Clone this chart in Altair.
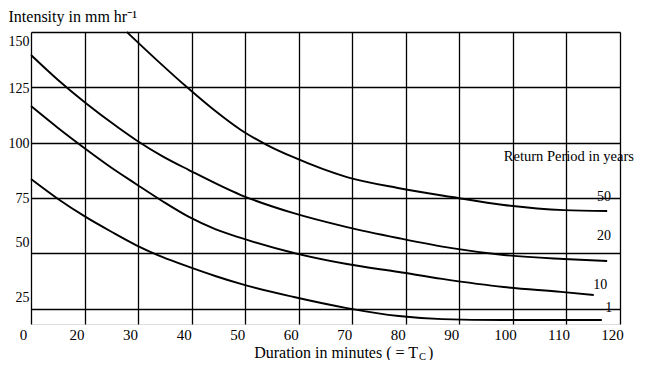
import altair as alt
import pandas as pd

# ---- axis ticks (as printed on the chart) ----
X_TICKS = [0, 20, 30, 40, 50, 60, 70, 80, 90, 100, 110, 120]
Y_TICKS = [25, 50, 75, 100, 125, 150]

# ---- curves: duration (min) and intensity (mm/hr) ----
RP50_T = [27.9, 33.5, 39.1, 44.2, 49.2, 54.1, 58.9, 69.0, 78.5, 88.6, 98.3, 109.5, 117.6]
RP50_I = [150.0, 137.3, 125.1, 114.7, 105.7, 98.9, 93.5, 84.4, 79.5, 75.4, 71.8, 69.5, 69.1]

RP20_T = [0, 10.1, 20.2, 26.4, 29.6, 34.5, 39.5, 49.2, 58.9, 69.0, 78.5, 88.6, 98.3, 109.5, 117.6]
RP20_I = [139.6, 128.3, 117.9, 106.6, 101.2, 93.9, 87.6, 76.3, 68.2, 61.8, 56.9, 52.3, 49.2, 47.4, 46.5]

RP10_T = [0, 10.1, 20.2, 25.1, 29.6, 34.5, 39.5, 44.4, 49.2, 59.1, 69.0, 78.7, 86.8, 98.3, 109.0, 115.1]
RP10_I = [116.5, 106.6, 97.1, 88.5, 81.3, 73.6, 66.4, 60.9, 56.9, 50.1, 45.1, 41.5, 38.4, 34.7, 32.5, 31.1]

RP1_T = [0, 10.1, 20.2, 25.1, 29.6, 34.5, 39.5, 44.4, 49.2, 59.1, 69.0, 78.7, 86.8, 98.0, 116.6]
RP1_I = [83.5, 74.5, 66.4, 59.6, 53.7, 48.3, 43.8, 39.7, 36.1, 30.2, 25.2, 21.6, 20.2, 19.8, 19.8]

# ---- labels on the right ----
LABEL_TEXT = ["Return Period in years", "50", "20", "10", "1"]
LABEL_T = [98.3, 117.0, 117.0, 116.3, 117.9]
LABEL_I = [93.5, 75.4, 57.8, 35.6, 25.2]
LABEL_ALIGN = ["left", "center", "center", "center", "center"]

rows = []
for name, ts, vs in [("50", RP50_T, RP50_I), ("20", RP20_T, RP20_I),
                     ("10", RP10_T, RP10_I), ("1", RP1_T, RP1_I)]:
    for t, v in zip(ts, vs):
        rows.append({"period": name, "t": t, "i": v})
curves = pd.DataFrame(rows)

labels = pd.DataFrame({"txt": LABEL_TEXT, "t": LABEL_T, "i": LABEL_I, "al": LABEL_ALIGN})

W, H = 589, 292
FONT = "Liberation Serif"

xscale = alt.Scale(domain=[0, 20, 120], range=[0, W / 11, W], nice=False, zero=False)
yscale = alt.Scale(domain=[18, 150], nice=False, zero=False)

xaxis = alt.Axis(values=X_TICKS, title=None, grid=True, gridColor="black", gridOpacity=1,
                 gridWidth=1.3, ticks=False, domain=False, labelFont=FONT, labelFontSize=15,
                 labelColor="black", labelPadding=3, labelOffset=-8, labelFlush=False)
yaxis = alt.Axis(values=Y_TICKS, grid=True, gridColor="black", gridOpacity=1, gridWidth=1.3,
                 ticks=False, domain=False, labelFont=FONT, labelFontSize=14, labelColor="black",
                 labelPadding=2, labelBaseline="middle",
                 labelOffset={"condition": [{"test": "datum.value == 150", "value": 9},
                                            {"test": "datum.value <= 50", "value": -11}],
                              "value": 1},
                 title="Intensity in mm hr\u207b\u00b9", titleFont=FONT, titleFontSize=16,
                 titleFontWeight="normal", titleColor="black", titleAngle=0, titleAlign="left",
                 titleBaseline="middle", titleX=-23, titleY=-16)

lines = alt.Chart(curves).mark_line(color="black", strokeWidth=1.9, interpolate="monotone").encode(
    x=alt.X("t:Q", scale=xscale, axis=xaxis),
    y=alt.Y("i:Q", scale=yscale, axis=yaxis),
    detail="period:N",
)

lab_left = alt.Chart(labels[labels.al == "left"]).mark_text(
    align="left", baseline="middle", font=FONT, fontSize=14.5, color="black").encode(
    x=alt.X("t:Q", scale=xscale), y=alt.Y("i:Q", scale=yscale), text="txt:N")
lab_center = alt.Chart(labels[labels.al == "center"]).mark_text(
    align="center", baseline="middle", font=FONT, fontSize=14, color="black").encode(
    x=alt.X("t:Q", scale=xscale), y=alt.Y("i:Q", scale=yscale), text="txt:N")

xt1 = alt.Chart(pd.DataFrame({"s": ["Duration in minutes  ( = T"]})).mark_text(
    align="right", baseline="alphabetic", font=FONT, fontSize=16, color="black").encode(
    text="s:N", x=alt.value(387), y=alt.value(H + 34))
xt2 = alt.Chart(pd.DataFrame({"s": ["C"]})).mark_text(
    align="left", baseline="alphabetic", font=FONT, fontSize=10.5, color="black").encode(
    text="s:N", x=alt.value(388), y=alt.value(H + 35.5))
xt3 = alt.Chart(pd.DataFrame({"s": [")"]})).mark_text(
    align="left", baseline="alphabetic", font=FONT, fontSize=16, color="black").encode(
    text="s:N", x=alt.value(397), y=alt.value(H + 34))

chart = alt.layer(lines, lab_left, lab_center, xt1, xt2, xt3).properties(
    width=W, height=H,
    autosize=alt.AutoSizeParams(type="none"),
    padding={"left": 23, "top": 24, "right": 17, "bottom": 36},
).configure_view(stroke="black", strokeWidth=1.5).configure(background="white")

chart.save("out.html", embed_options={"renderer": "svg", "actions": False})
